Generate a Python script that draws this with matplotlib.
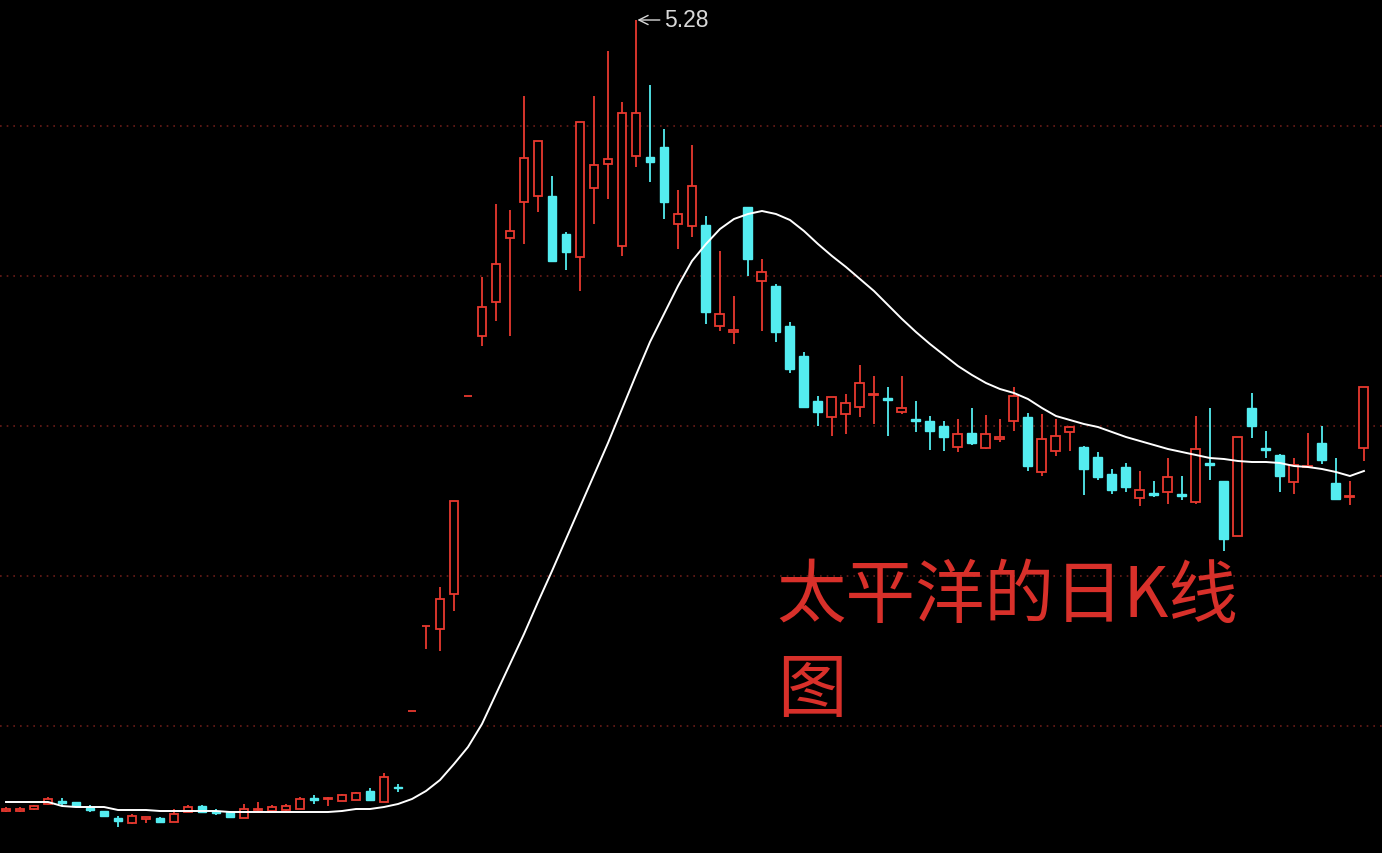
import matplotlib
matplotlib.use("Agg")
import matplotlib.pyplot as plt
import numpy as np

plt.rcParams['font.family'] = ['Noto Sans CJK SC', 'DejaVu Sans']

# daily OHLC (one value per trading day)
opens = [1.325, 1.325, 1.335, 1.36, 1.375, 1.37, 1.34, 1.325, 1.29, 1.265,
         1.285, 1.29, 1.27, 1.32, 1.35, 1.325, 1.32, 1.29, 1.33, 1.325,
         1.33, 1.335, 1.39, 1.385, 1.375, 1.38, 1.425, 1.37, 1.445, 1.825,
         2.25, 2.235, 2.41, 3.40, 3.70, 3.87, 4.19, 4.37, 4.40, 4.40,
         4.21, 4.095, 4.44, 4.56, 4.15, 4.60, 4.595, 4.645, 4.26, 4.25,
         4.255, 3.75, 3.72, 4.345, 3.975, 3.95, 3.75, 3.60, 3.375, 3.295,
         3.31, 3.345, 3.405, 3.39, 3.32, 3.285, 3.275, 3.25, 3.145, 3.215,
         3.14, 3.185, 3.275, 3.295, 3.02, 3.125, 3.22, 3.145, 3.095, 3.01,
         3.045, 2.89, 2.915, 2.92, 2.91, 2.87, 3.065, 2.975, 2.70, 3.34,
         3.14, 3.105, 2.97, 3.045, 3.165, 2.965, 2.895, 3.14]
highs = [1.345, 1.345, 1.355, 1.395, 1.39, 1.37, 1.355, 1.325, 1.30, 1.31,
         1.295, 1.295, 1.335, 1.355, 1.355, 1.335, 1.325, 1.36, 1.37, 1.355,
         1.36, 1.395, 1.405, 1.395, 1.41, 1.42, 1.44, 1.515, 1.46, 1.825,
         2.25, 2.445, 2.875, 3.40, 3.995, 4.36, 4.33, 4.90, 4.675, 4.50,
         4.22, 4.77, 4.90, 5.125, 4.87, 5.28, 4.955, 4.735, 4.43, 4.655,
         4.30, 4.125, 3.90, 4.345, 4.085, 3.96, 3.77, 3.62, 3.40, 3.395,
         3.41, 3.555, 3.50, 3.445, 3.50, 3.375, 3.30, 3.275, 3.285, 3.34,
         3.305, 3.285, 3.445, 3.315, 3.31, 3.285, 3.25, 3.15, 3.12, 3.035,
         3.065, 3.025, 2.975, 3.09, 3.00, 3.30, 3.34, 2.975, 3.195, 3.415,
         3.225, 3.11, 3.09, 3.215, 3.25, 3.09, 2.975, 3.445]
lows = [1.32, 1.32, 1.33, 1.355, 1.35, 1.35, 1.32, 1.30, 1.245, 1.26,
        1.265, 1.27, 1.27, 1.32, 1.32, 1.305, 1.295, 1.29, 1.325, 1.325,
        1.325, 1.335, 1.36, 1.35, 1.375, 1.38, 1.38, 1.37, 1.42, 1.825,
        2.135, 2.125, 2.325, 3.40, 3.65, 3.775, 3.70, 4.16, 4.32, 4.07,
        4.03, 3.925, 4.26, 4.385, 4.10, 4.545, 4.47, 4.285, 4.135, 4.195,
        3.76, 3.725, 3.66, 4.00, 3.725, 3.67, 3.515, 3.345, 3.25, 3.20,
        3.21, 3.295, 3.26, 3.20, 3.31, 3.22, 3.13, 3.125, 3.12, 3.155,
        3.135, 3.17, 3.225, 3.025, 3.00, 3.10, 3.125, 2.905, 2.98, 2.91,
        2.92, 2.85, 2.895, 2.86, 2.88, 2.86, 2.98, 2.625, 2.70, 3.19,
        3.09, 2.92, 2.91, 3.04, 3.06, 2.885, 2.855, 3.075]
closes = [1.335, 1.335, 1.35, 1.385, 1.365, 1.35, 1.33, 1.30, 1.275, 1.30,
          1.295, 1.27, 1.31, 1.345, 1.32, 1.315, 1.295, 1.335, 1.335, 1.345,
          1.35, 1.385, 1.38, 1.39, 1.405, 1.415, 1.38, 1.495, 1.44, 1.825,
          2.25, 2.385, 2.875, 3.40, 3.845, 4.06, 4.225, 4.59, 4.675, 4.075,
          4.12, 4.77, 4.555, 4.585, 4.815, 4.815, 4.57, 4.37, 4.31, 4.45,
          3.82, 3.81, 3.73, 4.085, 4.02, 3.72, 3.535, 3.345, 3.32, 3.395,
          3.365, 3.465, 3.41, 3.38, 3.34, 3.275, 3.225, 3.195, 3.21, 3.165,
          3.21, 3.195, 3.40, 3.05, 3.185, 3.20, 3.245, 3.035, 2.995, 2.93,
          2.945, 2.93, 2.905, 2.995, 2.90, 3.135, 3.055, 2.685, 3.195, 3.25,
          3.13, 3.00, 3.055, 3.05, 3.08, 2.885, 2.90, 3.445]
# moving average line (white)
ma = [1.37, 1.37, 1.37, 1.37, 1.35, 1.345, 1.345, 1.345, 1.33, 1.33,
      1.33, 1.325, 1.325, 1.325, 1.325, 1.325, 1.32, 1.32, 1.32, 1.32,
      1.32, 1.32, 1.32, 1.32, 1.325, 1.335, 1.335, 1.345, 1.36, 1.385,
      1.425, 1.48, 1.56, 1.645, 1.76, 1.91, 2.06, 2.21, 2.37, 2.525,
      2.685, 2.845, 3.005, 3.165, 3.335, 3.505, 3.67, 3.81, 3.95, 4.075,
      4.16, 4.235, 4.285, 4.31, 4.325, 4.31, 4.28, 4.225, 4.16, 4.10,
      4.045, 3.985, 3.925, 3.855, 3.785, 3.72, 3.66, 3.605, 3.55, 3.505,
      3.465, 3.435, 3.415, 3.385, 3.34, 3.30, 3.28, 3.26, 3.245, 3.22,
      3.195, 3.175, 3.155, 3.135, 3.12, 3.105, 3.09, 3.085, 3.075, 3.07,
      3.07, 3.065, 3.05, 3.045, 3.035, 3.02, 3.00, 3.025]
grid_levels = [4.75, 4.00, 3.25, 2.50, 1.75]
peak_label = "5.28"
title_text = "太平洋的日K线\n图"

UP = '#e8392f'
DOWN = '#54ecf0'

o = np.array(opens); h = np.array(highs); l = np.array(lows); c = np.array(closes)
x = np.arange(len(o))
up = c >= o
top = np.maximum(o, c)
bot = np.minimum(o, c)

fig = plt.figure(figsize=(13.82, 8.54), dpi=100, facecolor='black')
ax = fig.add_axes([0, 0, 1, 1])
ax.set_facecolor('black')

for g in grid_levels:
    ax.axhline(g, color='#6a1c18', lw=1.2, ls=(0, (1, 3)), zorder=0)

w = 0.64
# down candles: full wick + filled body
ax.vlines(x[~up], l[~up], h[~up], color=DOWN, lw=1.3, zorder=2)
ax.bar(x[~up], top[~up] - bot[~up], bottom=bot[~up], width=w,
       color=DOWN, edgecolor=DOWN, lw=1.0, zorder=3)
# up candles: hollow body, wick outside body
ax.vlines(x[up], top[up], h[up], color=UP, lw=1.3, zorder=2)
ax.vlines(x[up], l[up], bot[up], color=UP, lw=1.3, zorder=2)
ax.bar(x[up], top[up] - bot[up], bottom=bot[up], width=w,
       facecolor='black', edgecolor=UP, lw=1.3, zorder=3)

ax.plot(x, ma, color='white', lw=1.4, zorder=4)

imax = int(np.argmax(h))
ax.annotate(peak_label, xy=(imax + 0.1, h[imax]), xytext=(imax + 2.0, h[imax]),
            color='#d8d8d8', fontsize=16.5, family=['Liberation Sans', 'DejaVu Sans'],
            va='center', ha='left',
            arrowprops=dict(arrowstyle='->', color='#d8d8d8', lw=1.0,
                            shrinkA=1, shrinkB=0))

ax.text(0.562, 0.343, title_text, transform=ax.transAxes, color='#d8302a',
        fontsize=50, va='top', ha='left', linespacing=1.42)

ax.set_xlim(-0.43, 98.29)
ax.set_ylim(1.115, 5.385)
ax.axis('off')

fig.savefig('out.png', dpi=100, facecolor='black')
